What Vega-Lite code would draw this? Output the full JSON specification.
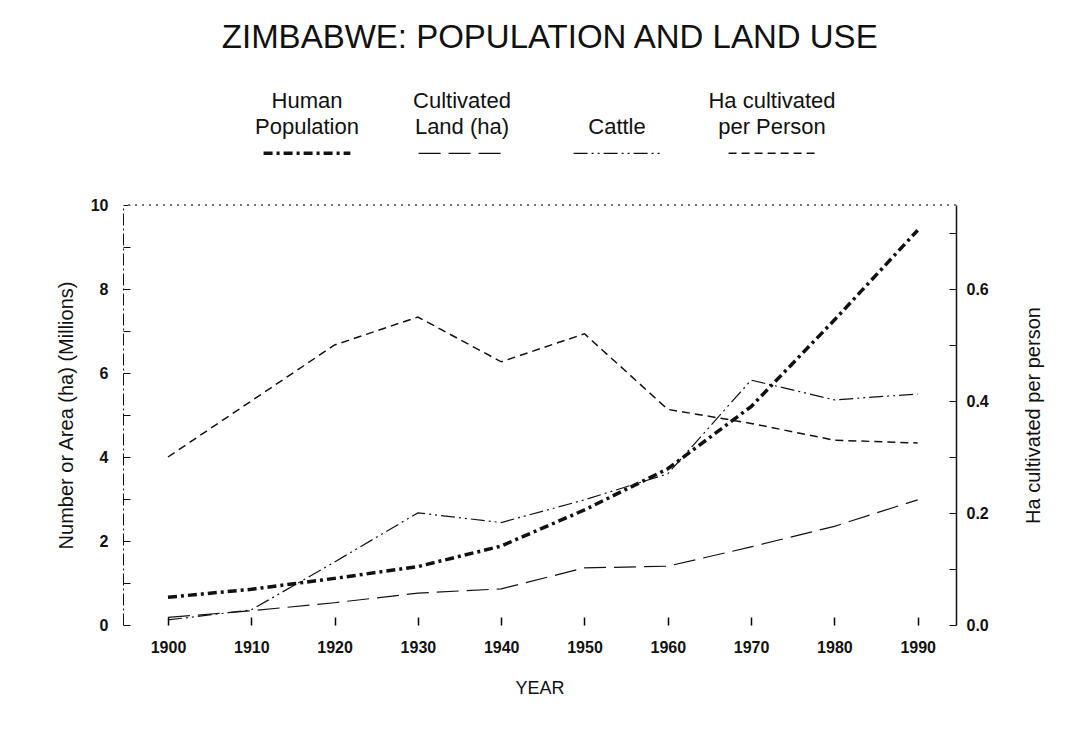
{
  "$schema": "https://vega.github.io/schema/vega-lite/v6.json",
  "padding": {"top": 22, "left": 56, "right": 10, "bottom": 10},
  "background": "white",
  "title": {
    "text": "ZIMBABWE: POPULATION AND LAND USE",
    "font": "Liberation Sans",
    "fontSize": 33,
    "fontWeight": "normal",
    "color": "#111",
    "anchor": "middle",
    "offset": 12
  },
  "datasets": {
    "main": [
      {"year": 1900, "pop": 0.66, "cultivated": 0.18, "cattle": 0.12, "ha_pp": 0.30},
      {"year": 1910, "pop": 0.85, "cultivated": 0.34, "cattle": 0.36, "ha_pp": 0.40},
      {"year": 1920, "pop": 1.11, "cultivated": 0.53, "cattle": 1.50, "ha_pp": 0.50},
      {"year": 1930, "pop": 1.39, "cultivated": 0.76, "cattle": 2.67, "ha_pp": 0.55},
      {"year": 1940, "pop": 1.88, "cultivated": 0.86, "cattle": 2.44, "ha_pp": 0.47},
      {"year": 1950, "pop": 2.74, "cultivated": 1.36, "cattle": 2.98, "ha_pp": 0.52},
      {"year": 1960, "pop": 3.72, "cultivated": 1.40, "cattle": 3.60, "ha_pp": 0.385},
      {"year": 1970, "pop": 5.20, "cultivated": 1.86, "cattle": 5.83, "ha_pp": 0.36},
      {"year": 1980, "pop": 7.26, "cultivated": 2.35, "cattle": 5.36, "ha_pp": 0.33},
      {"year": 1990, "pop": 9.40, "cultivated": 2.98, "cattle": 5.50, "ha_pp": 0.325}
    ],
    "legend": [
      {"series": "pop", "l1": "Human", "l2": "Population"},
      {"series": "cultivated", "l1": "Cultivated", "l2": "Land (ha)"},
      {"series": "cattle", "l1": "", "l2": "Cattle"},
      {"series": "ha", "l1": "Ha cultivated", "l2": "per Person"}
    ]
  },
  "spacing": 20,
  "vconcat": [
    {
      "width": 833,
      "height": 110,
      "data": {"name": "legend"},
      "encoding": {
        "x": {
          "field": "series",
          "type": "nominal",
          "scale": {"type": "band", "domain": ["pop", "cultivated", "cattle", "ha"], "paddingInner": 0.44, "paddingOuter": 0.907},
          "axis": null
        }
      },
      "layer": [
        {
          "mark": {"type": "text", "font": "Liberation Sans", "fontSize": 22, "baseline": "alphabetic", "align": "center", "color": "#111"},
          "encoding": {
            "text": {"field": "l1"},
            "y": {"datum": 0.37, "type": "quantitative", "scale": {"domain": [0, 1], "reverse": true, "nice": false, "zero": false}, "axis": null}
          }
        },
        {
          "mark": {"type": "text", "font": "Liberation Sans", "fontSize": 22, "baseline": "alphabetic", "align": "center", "color": "#111"},
          "encoding": {
            "text": {"field": "l2"},
            "y": {"datum": 0.605, "type": "quantitative"}
          }
        },
        {
          "mark": {"type": "rule", "color": "#111", "strokeCap": "butt"},
          "encoding": {
            "x": {"field": "series", "type": "nominal", "bandPosition": 0},
            "x2": {"field": "series", "bandPosition": 1},
            "y": {"datum": 0.785, "type": "quantitative"},
            "strokeDash": {
              "field": "series",
              "type": "nominal",
              "scale": {"domain": ["pop", "cultivated", "cattle", "ha"], "range": [[9, 4, 3, 4], [22, 8], [14, 4, 2, 4, 2, 4], [8, 5]]},
              "legend": null
            },
            "strokeWidth": {
              "field": "series",
              "type": "ordinal",
              "scale": {"type": "ordinal", "domain": ["pop", "cultivated", "cattle", "ha"], "range": [3.5, 1.2, 1.2, 1.5]},
              "legend": null
            }
          }
        }
      ]
    },
    {
      "width": 833,
      "height": 420,
      "data": {"name": "main"},
      "layer": [
        {
          "transform": [{"fold": ["pop", "cultivated", "cattle"], "as": ["series", "value"]}],
          "mark": {"type": "line", "color": "#111", "strokeCap": "butt"},
          "encoding": {
            "x": {
              "field": "year",
              "type": "quantitative",
              "scale": {"domain": [1894.6, 1994.6], "nice": false, "zero": false},
              "axis": {
                "orient": "bottom",
                "values": [1900, 1910, 1920, 1930, 1940, 1950, 1960, 1970, 1980, 1990],
                "format": "d",
                "title": "YEAR",
                "titleFont": "Liberation Sans",
                "titleFontSize": 18,
                "titleFontWeight": "normal",
                "titleColor": "#111",
                "titlePadding": 24,
                "labelFont": "Liberation Sans",
                "labelFontSize": 16,
                "labelFontWeight": "bold",
                "labelColor": "#111",
                "labelPadding": 22,
                "ticks": true,
                "tickSize": -8,
                "tickColor": "#000",
                "tickWidth": 1.5,
                "tickOpacity": 1,
                "domain": true,
                "domainOpacity": 0,
                "grid": false
              }
            },
            "y": {
              "field": "value",
              "type": "quantitative",
              "scale": {"domain": [0, 10], "nice": false, "zero": true},
              "axis": {
                "orient": "left",
                "values": [0, 1, 2, 3, 4, 5, 6, 7, 8, 9, 10],
                "labelExpr": "datum.value % 2 == 0 ? datum.label : ''",
                "title": "Number or Area (ha) (Millions)",
                "titleFont": "Liberation Sans",
                "titleFontSize": 20,
                "titleFontWeight": "normal",
                "titleColor": "#111",
                "titlePadding": 14,
                "labelFont": "Liberation Sans",
                "labelFontSize": 16,
                "labelFontWeight": "bold",
                "labelColor": "#111",
                "labelPadding": 22,
                "tickSize": -7,
                "tickColor": "#111",
                "domainColor": "#111",
                "domainDash": [12, 3, 2, 3],
                "domainWidth": 1,
                "grid": false
              }
            },
            "strokeDash": {
              "field": "series",
              "type": "nominal",
              "scale": {"domain": ["pop", "cultivated", "cattle", "ha"], "range": [[9, 4, 3, 4], [22, 8], [14, 4, 2, 4, 2, 4], [8, 5]]},
              "legend": null
            },
            "strokeWidth": {
              "field": "series",
              "type": "ordinal",
              "scale": {"type": "ordinal", "domain": ["pop", "cultivated", "cattle", "ha"], "range": [3.5, 1.2, 1.2, 1.5]},
              "legend": null
            }
          }
        },
        {
          "layer": [
            {
              "mark": {"type": "line", "color": "#111", "strokeDash": [8, 5], "strokeWidth": 1.5, "strokeCap": "butt"},
              "encoding": {
                "x": {"field": "year", "type": "quantitative"},
                "y": {
                  "field": "ha_pp",
                  "type": "quantitative",
                  "scale": {"domain": [0, 0.75], "nice": false, "zero": true},
                  "axis": {
                    "orient": "right",
                    "values": [0, 0.1, 0.2, 0.3, 0.4, 0.5, 0.6, 0.7],
                    "labelExpr": "round(datum.value * 10) % 2 == 0 ? format(datum.value, '.1f') : ''",
                    "title": "Ha cultivated per person",
                    "titleAngle": 270,
                    "titleFont": "Liberation Sans",
                    "titleFontSize": 20,
                    "titleFontWeight": "normal",
                    "titleColor": "#111",
                    "titlePadding": 55,
                    "labelFont": "Liberation Sans",
                    "labelFontSize": 16,
                    "labelFontWeight": "bold",
                    "labelColor": "#111",
                    "labelPadding": 17,
                    "tickSize": -7,
                    "tickColor": "#111",
                    "domainColor": "#111",
                    "domainWidth": 1.5,
                    "grid": false
                  }
                }
              }
            },
            {
              "mark": {"type": "rule", "color": "#777", "strokeDash": [2, 5], "strokeWidth": 1},
              "encoding": {
                "y": {"datum": 0.75, "type": "quantitative"}
              }
            }
          ]
        }
      ],
      "resolve": {"scale": {"y": "independent"}}
    }
  ],
  "config": {
    "view": {"stroke": null},
    "font": "Liberation Sans"
  }
}
